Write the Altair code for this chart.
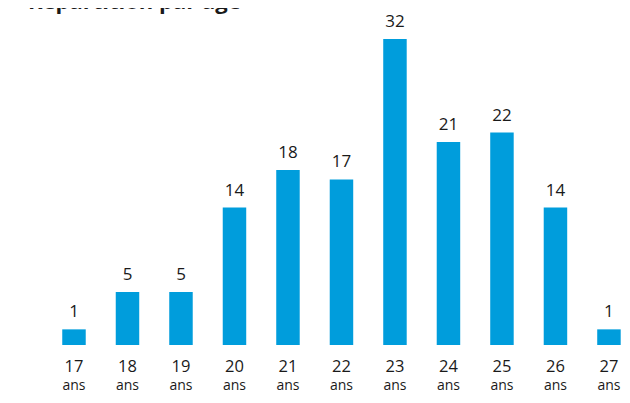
import altair as alt
import pandas as pd

ages = [17, 18, 19, 20, 21, 22, 23, 24, 25, 26, 27]
counts = [1, 5, 5, 14, 18, 17, 32, 21, 22, 14, 1]
age_unit = "ans"
title_text = "Répartition par âge"

BLUE = "#009ddc"
TEXT = "#1a1a1a"
FONT = "Open Sans"
BASE = -0.67

df = pd.DataFrame({
    "age": [str(a) for a in ages],
    "count": counts,
    "unit": [age_unit] * len(ages),
})

x = alt.X("age:N", sort=None,
          scale=alt.Scale(range=[54.25, 612.7], paddingInner=0.561, paddingOuter=0, round=False),
          axis=None)
yscale = alt.Scale(domain=[BASE, 35.3], nice=False, zero=False)

bars = alt.Chart(df).mark_bar(color=BLUE).encode(
    x=x,
    y=alt.Y("count:Q", scale=yscale, axis=None),
    y2=alt.Y2Datum(datum=BASE),
)

values = alt.Chart(df).mark_text(
    font=FONT, fontSize=17, color=TEXT, baseline="alphabetic", dy=-12
).encode(x=x, y=alt.Y("count:Q", scale=yscale), text="count:Q")

num_labels = alt.Chart(df).mark_text(
    font=FONT, fontSize=16.5, color=TEXT, baseline="alphabetic", dy=27
).encode(x=x, y=alt.YDatum(datum=BASE, scale=yscale), text="age:N")

unit_labels = alt.Chart(df).mark_text(
    font=FONT, fontSize=14, color=TEXT, baseline="alphabetic", dy=45
).encode(x=x, y=alt.YDatum(datum=BASE, scale=yscale), text="unit:N")

title = alt.Chart(pd.DataFrame({"t": [title_text]})).mark_text(
    font=FONT, fontSize=22, fontWeight="bold", color=TEXT,
    align="left", baseline="alphabetic"
).encode(x=alt.value(20), y=alt.value(1), text="t:N")

chart = alt.layer(bars, values, num_labels, unit_labels, title).properties(
    width=614, height=337,
    background="white",
    autosize=alt.AutoSizeParams(type="none"),
    padding={"left": 0, "top": 0, "right": 0, "bottom": 50},
).configure_view(stroke=None)

chart.save("out.html", embed_options={"renderer": "svg", "actions": False})
